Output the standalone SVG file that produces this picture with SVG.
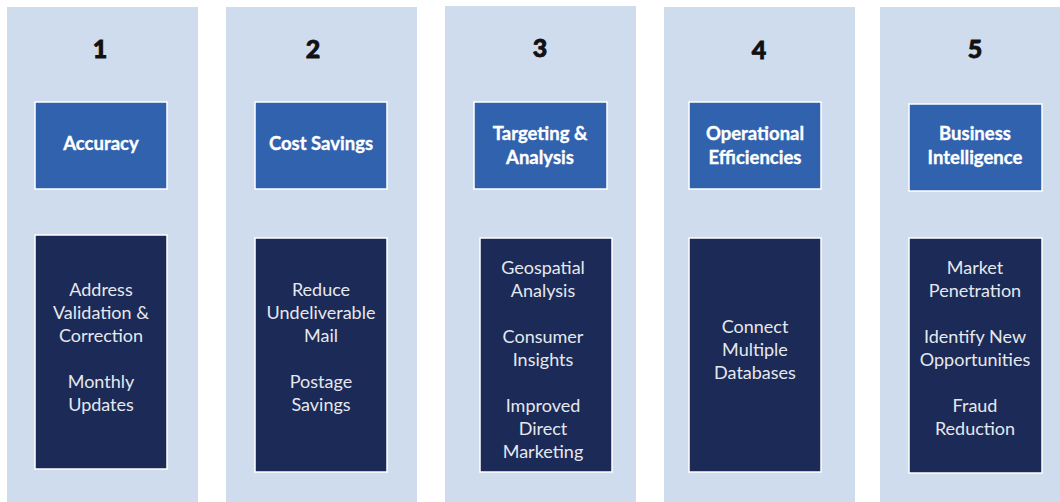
<svg xmlns="http://www.w3.org/2000/svg" width="1060" height="502" viewBox="0 0 1060 502">
<style>
.col{fill:#cfdcee}
.hdr{fill:#3162ae;stroke:#ffffff;stroke-width:1.5}
.body{fill:#1b2a56;stroke:#ffffff;stroke-width:1.5}
.num{font-family:Lato,"Liberation Sans",sans-serif;font-weight:900;font-size:25px;fill:#111;stroke:#111;stroke-width:0.8;text-anchor:middle}
.ht{font-family:Lato,"Liberation Sans",sans-serif;font-weight:700;font-size:18.5px;fill:#ffffff;stroke:#ffffff;stroke-width:0.35;text-anchor:middle}
.bt{font-family:Lato,"Liberation Sans",sans-serif;font-size:18px;fill:#e6e8ee;text-anchor:middle}
</style>
<rect width="1060" height="502" fill="#ffffff"/>
<g id="col1">
<rect class="col" x="7" y="7" width="191" height="495"/>
<text class="num" x="100" y="58">1</text>
<rect class="hdr" x="35" y="102" width="132" height="87"/>
<text class="ht" x="101" y="150">Accuracy</text>
<rect class="body" x="35" y="235" width="132" height="234"/>
<text class="bt" x="101"><tspan x="101" y="296">Address</tspan><tspan x="101" y="319">Validation &amp;</tspan><tspan x="101" y="342">Correction</tspan><tspan x="101" y="388">Monthly</tspan><tspan x="101" y="411">Updates</tspan></text>
</g>
<g id="col2">
<rect class="col" x="226" y="7" width="191" height="495"/>
<text class="num" x="313" y="58">2</text>
<rect class="hdr" x="255" y="102" width="132" height="87"/>
<text class="ht" x="321" y="150">Cost Savings</text>
<rect class="body" x="255" y="238" width="132" height="234"/>
<text class="bt" x="321"><tspan x="321" y="296">Reduce</tspan><tspan x="321" y="319">Undeliverable</tspan><tspan x="321" y="342">Mail</tspan><tspan x="321" y="388">Postage</tspan><tspan x="321" y="411">Savings</tspan></text>
</g>
<g id="col3">
<rect class="col" x="445" y="6" width="191" height="496"/>
<text class="num" x="540" y="57">3</text>
<rect class="hdr" x="474" y="102" width="133" height="87"/>
<text class="ht" x="540"><tspan x="540" y="140">Targeting &amp;</tspan><tspan x="540" y="164">Analysis</tspan></text>
<rect class="body" x="480" y="238" width="132" height="234"/>
<text class="bt" x="543"><tspan x="543" y="274">Geospatial</tspan><tspan x="543" y="297">Analysis</tspan><tspan x="543" y="343">Consumer</tspan><tspan x="543" y="366">Insights</tspan><tspan x="543" y="412">Improved</tspan><tspan x="543" y="435">Direct</tspan><tspan x="543" y="458">Marketing</tspan></text>
</g>
<g id="col4">
<rect class="col" x="664" y="7" width="191" height="495"/>
<text class="num" x="759" y="59">4</text>
<rect class="hdr" x="689" y="102" width="132" height="87"/>
<text class="ht" x="755"><tspan x="755" y="140">Operational</tspan><tspan x="755" y="164">Efficiencies</tspan></text>
<rect class="body" x="689" y="238" width="132" height="234"/>
<text class="bt" x="755"><tspan x="755" y="333">Connect</tspan><tspan x="755" y="356">Multiple</tspan><tspan x="755" y="379">Databases</tspan></text>
</g>
<g id="col5">
<rect class="col" x="880" y="7" width="180" height="495"/>
<text class="num" x="975" y="58">5</text>
<rect class="hdr" x="909" y="104" width="133" height="87"/>
<text class="ht" x="975"><tspan x="975" y="140">Business</tspan><tspan x="975" y="164">Intelligence</tspan></text>
<rect class="body" x="909" y="238" width="133" height="235"/>
<text class="bt" x="975"><tspan x="975" y="274">Market</tspan><tspan x="975" y="297">Penetration</tspan><tspan x="975" y="343">Identify New</tspan><tspan x="975" y="366">Opportunities</tspan><tspan x="975" y="412">Fraud</tspan><tspan x="975" y="435">Reduction</tspan></text>
</g>
<g id="connectors"></g>
</svg>
